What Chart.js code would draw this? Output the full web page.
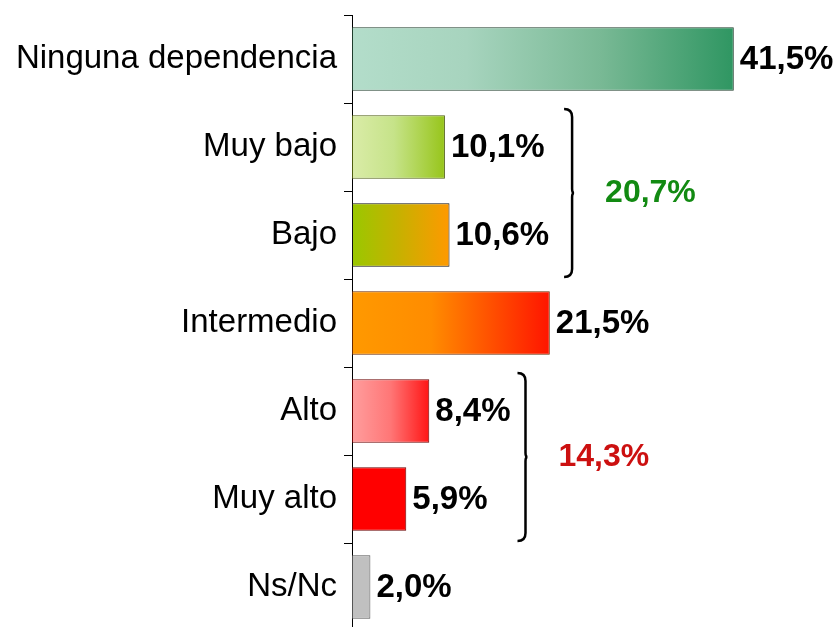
<!DOCTYPE html>
<html lang="es">
<head>
<meta charset="utf-8">
<title>Nivel de dependencia</title>
<script src="https://cdn.jsdelivr.net/npm/chart.js@4.4.1/dist/chart.umd.min.js"></script>
<style>
  html, body { margin: 0; padding: 0; background: #fff; overflow: hidden; }
  #wrap { width: 836px; height: 640px; }
</style>
</head>
<body>
<div id="wrap"><canvas id="grafico"></canvas></div>
<script>
const categorias = ["Ninguna dependencia", "Muy bajo", "Bajo", "Intermedio", "Alto", "Muy alto", "Ns/Nc"];
const porcentajes = [41.5, 10.1, 10.6, 21.5, 8.4, 5.9, 2.0];

// agrupaciones con llave: indices de inicio y fin, y su total
const gruposDesde = [1, 4];
const gruposHasta = [2, 5];
const gruposTotal = [20.7, 14.3];

// estilos
const FUENTE = '"Liberation Sans", Arial, sans-serif';
const degradados = [
  [[0, "#b3ddca"], [0.3, "#a7d4be"], [0.65, "#79b995"], [1, "#2f9662"]],
  [[0, "#daeca8"], [0.45, "#c6e389"], [1, "#97c51a"]],
  [[0, "#99c800"], [0.5, "#c9b000"], [1, "#ff9900"]],
  [[0, "#ff9900"], [0.4, "#ff8c00"], [1, "#ff1500"]],
  [[0, "#ff9e9e"], [0.5, "#ff7676"], [1, "#ff1515"]],
  [[0, "#ff0000"], [1, "#ff0000"]],
  [[0, "#c0c0c0"], [1, "#c0c0c0"]]
];
const bordes = ["#1f3d2c", "#4e5e10", "#111111", "#6a2a00", "#6a0000", "#6a0000", "#555555"];
const coloresGrupo = ["#128a12", "#cc1010"];
const separacionLlave = [23, 15];

const fmt = v => v.toFixed(1).replace(".", ",") + "%";

function fondoBarra(c) {
  const chart = c.chart;
  const stops = degradados[c.dataIndex] || [[0, "#999"], [1, "#999"]];
  if (!chart.chartArea) return stops[0][1];
  const x = chart.scales.x;
  const x0 = x.getPixelForValue(0);
  const x1 = x.getPixelForValue(porcentajes[c.dataIndex]);
  const g = chart.ctx.createLinearGradient(x0, 0, x1, 0);
  stops.forEach(s => g.addColorStop(s[0], s[1]));
  return g;
}

const etiquetasYLlaves = {
  id: "etiquetasYLlaves",
  afterDatasetsDraw(chart) {
    const ctx = chart.ctx;
    const meta = chart.getDatasetMeta(0);
    const y = chart.scales.y;
    const finales = [];

    ctx.save();
    ctx.font = "bold 33px " + FUENTE;
    ctx.fillStyle = "#000";
    ctx.textAlign = "left";
    ctx.textBaseline = "middle";
    meta.data.forEach((barra, i) => {
      const txt = fmt(porcentajes[i]);
      const x0 = barra.x + 6;
      ctx.fillText(txt, x0, barra.y + 1);
      finales[i] = x0 + ctx.measureText(txt).width;
    });

    const banda = y.getPixelForValue(1) - y.getPixelForValue(0);
    gruposDesde.forEach((desde, k) => {
      const hasta = gruposHasta[k];
      const arriba = y.getPixelForValue(desde) - banda / 2 + 6;
      const abajo = y.getPixelForValue(hasta) + banda / 2 - 2;
      const medio = (arriba + abajo) / 2;
      const bx = Math.max(...finales.slice(desde, hasta + 1)) + separacionLlave[k];
      const r = 8;

      ctx.beginPath();
      ctx.moveTo(bx - r, arriba);
      ctx.quadraticCurveTo(bx, arriba, bx, arriba + r);
      ctx.lineTo(bx, medio - 4);
      ctx.quadraticCurveTo(bx, medio, bx + 2, medio);
      ctx.quadraticCurveTo(bx, medio, bx, medio + 4);
      ctx.lineTo(bx, abajo - r);
      ctx.quadraticCurveTo(bx, abajo, bx - r, abajo);
      ctx.lineWidth = 2.5;
      ctx.strokeStyle = "#000";
      ctx.stroke();

      ctx.font = "bold 32px " + FUENTE;
      ctx.fillStyle = coloresGrupo[k];
      ctx.fillText(fmt(gruposTotal[k]), bx + 33, medio);
    });
    ctx.restore();
  }
};

new Chart(document.getElementById("grafico"), {
  type: "bar",
  data: {
    labels: categorias,
    datasets: [{
      data: porcentajes,
      backgroundColor: fondoBarra,
      borderColor: bordes,
      borderWidth: 1,
      borderSkipped: false,
      barPercentage: 0.72,
      categoryPercentage: 1
    }]
  },
  options: {
    indexAxis: "y",
    responsive: true,
    maintainAspectRatio: false,
    animation: false,
    layout: { padding: { top: 15, right: 24, bottom: 9, left: 0 } },
    plugins: {
      legend: { display: false },
      tooltip: { enabled: false }
    },
    scales: {
      x: {
        display: false,
        min: 0,
        max: 50
      },
      y: {
        afterFit(scale) {
          scale.width = 352;
          scale.paddingTop = 0;
          scale.paddingBottom = 0;
        },
        grid: {
          offset: true,
          drawOnChartArea: false,
          drawTicks: true,
          tickLength: 8,
          color: "#000",
          lineWidth: 1
        },
        border: { display: true, color: "#000", width: 1 },
        ticks: {
          color: "#000",
          padding: 7,
          font: { family: FUENTE, size: 33 }
        }
      }
    }
  },
  plugins: [etiquetasYLlaves]
});
</script>
</body>
</html>
